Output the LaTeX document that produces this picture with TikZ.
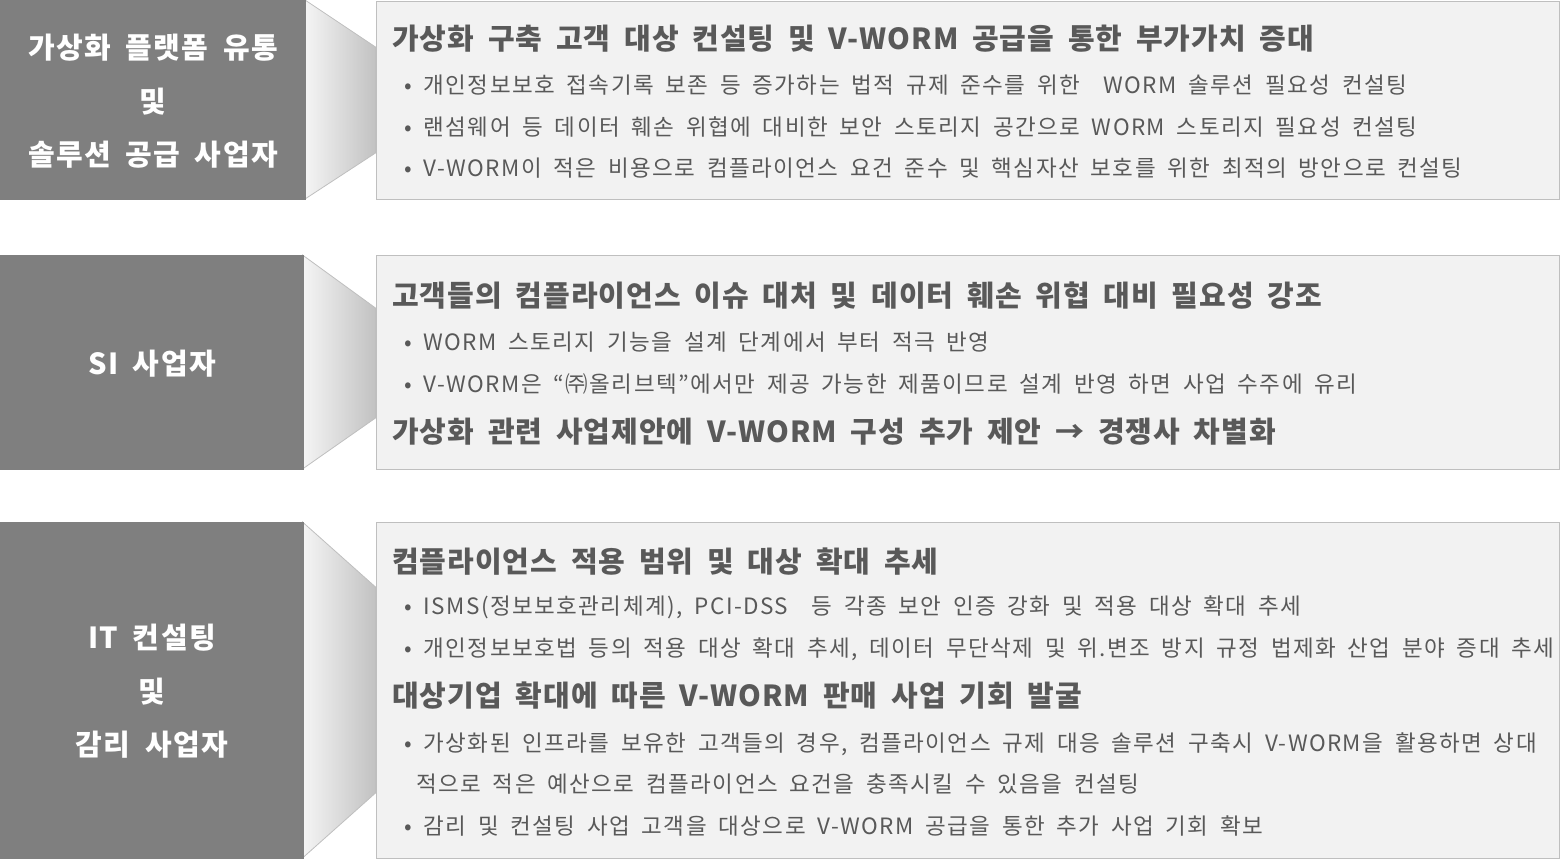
\documentclass[tikz,border=0pt]{standalone}
\usepackage{fontspec}
\setmainfont{Noto Sans CJK KR}[WordSpace=1.8]
\definecolor{darkbox}{HTML}{7F7F7F}
\definecolor{lightbox}{HTML}{F2F2F2}
\definecolor{edge}{HTML}{BFBFBF}
\definecolor{txt}{HTML}{595959}
\tikzset{
  leftbox/.style={draw=darkbox, fill=darkbox, line width=0.8pt},
  rightbox/.style={draw=edge, fill=lightbox, line width=1.2pt},
  funnel/.style={draw=edge, line width=0.8pt, left color=white!96!black, right color=black!24},
  lefttext/.style={text=white, font=\fontsize{29}{32}\selectfont\bfseries\addfontfeatures{LetterSpace=5}, inner sep=0pt},
  head/.style={anchor=west, text=txt, font=\fontsize{29}{32}\selectfont\bfseries\addfontfeatures{LetterSpace=3.5}, inner sep=0pt},
  item/.style={anchor=west, text=txt, font=\fontsize{22.5}{26}\selectfont\addfontfeatures{LetterSpace=6.5}, inner sep=0pt},
}
\begin{document}
\begin{tikzpicture}[x=1pt,y=-1pt]
\useasboundingbox (0,0) rectangle (1560,859);
% row 1
\path[funnel] (305,0) -- (375.5,47) -- (375.5,153) -- (305,199) -- cycle;
\node[leftbox, minimum width=305, minimum height=199, anchor=north west] (l1) at (0,0) {};
\node[rightbox, minimum width=1183, minimum height=198, anchor=north west] (r1) at (375.5,0.6) {};
\node[lefttext] (l1a) at (153,48) {가상화 플랫폼 유통};
\node[lefttext] (l1b) at (153,102) {및};
\node[lefttext] (l1c) at (153,155) {솔루션 공급 사업자};
\node[head] (h1) at (392,39) {가상화 구축 고객 대상 컨설팅 및 V-WORM 공급을 통한 부가가치 증대};
\node[item] (i11) at (404,85) {• 개인정보보호 접속기록 보존 등 증가하는 법적 규제 준수를 위한\ \ WORM 솔루션 필요성 컨설팅};
\node[item] (i12) at (404,127) {• 랜섬웨어 등 데이터 훼손 위협에 대비한 보안 스토리지 공간으로 WORM 스토리지 필요성 컨설팅};
\node[item] (i13) at (404,168) {• V-WORM이 적은 비용으로 컴플라이언스 요건 준수 및 핵심자산 보호를 위한 최적의 방안으로 컨설팅};
% row 2
\path[funnel] (302.5,255) -- (375.5,308) -- (375.5,418) -- (302.5,469) -- cycle;
\node[leftbox, minimum width=302.5, minimum height=214, anchor=north west] (l2) at (0,255) {};
\node[rightbox, minimum width=1183, minimum height=214, anchor=north west] (r2) at (375.5,255) {};
\node[lefttext] (l2a) at (152,364) {SI 사업자};
\node[head] (h2) at (392,296) {고객들의 컴플라이언스 이슈 대처 및 데이터 훼손 위협 대비 필요성 강조};
\node[item] (i21) at (404,342) {• WORM 스토리지 기능을 설계 단계에서 부터 적극 반영};
\node[item] (i22) at (404,384) {• V-WORM은 “㈜올리브텍”에서만 제공 가능한 제품이므로 설계 반영 하면 사업 수주에 유리};
\node[head] (h22) at (392,432) {가상화 관련 사업제안에 V-WORM 구성 추가 제안 → 경쟁사 차별화};
% row 3
\path[funnel] (302.5,522) -- (375.5,587) -- (375.5,793) -- (302.5,858) -- cycle;
\node[leftbox, minimum width=302.5, minimum height=336, anchor=north west] (l3) at (0,522) {};
\node[rightbox, minimum width=1183, minimum height=336, anchor=north west] (r3) at (375.5,522) {};
\node[lefttext] (l3a) at (152,638) {IT 컨설팅};
\node[lefttext] (l3b) at (152,692) {및};
\node[lefttext] (l3c) at (152,745) {감리 사업자};
\node[head] (h3) at (392,562) {컴플라이언스 적용 범위 및 대상 확대 추세};
\node[item] (i31) at (404,607) {• ISMS(정보보호관리체계), PCI-DSS\ \ 등 각종 보안 인증 강화 및 적용 대상 확대 추세};
\node[item] (i32) at (404,649) {• 개인정보보호법 등의 적용 대상 확대 추세, 데이터 무단삭제 및 위.변조 방지 규정 법제화 산업 분야 증대 추세};
\node[head] (h32) at (392,696) {대상기업 확대에 따른 V-WORM 판매 사업 기회 발굴};
\node[item] (i33) at (404,744) {• 가상화된 인프라를 보유한 고객들의 경우, 컴플라이언스 규제 대응 솔루션 구축시 V-WORM을 활용하면 상대};
\node[item] (i34) at (416,784) {적으로 적은 예산으로 컴플라이언스 요건을 충족시킬 수 있음을 컨설팅};
\node[item] (i35) at (404,826) {• 감리 및 컨설팅 사업 고객을 대상으로 V-WORM 공급을 통한 추가 사업 기회 확보};
\end{tikzpicture}
\end{document}
